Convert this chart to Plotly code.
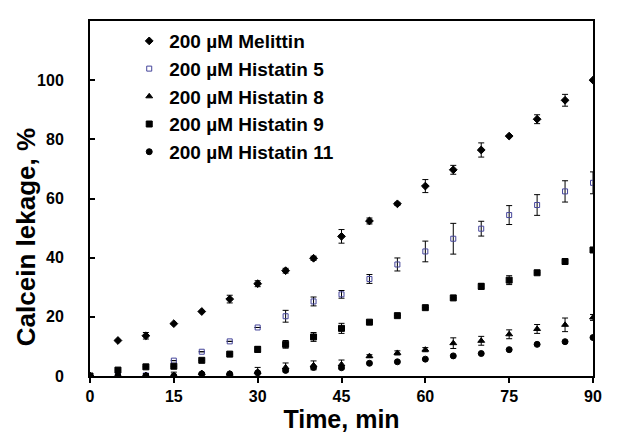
import plotly.graph_objects as go

time_min = [0, 5, 10, 15, 20, 25, 30, 35, 40, 45, 50, 55, 60, 65, 70, 75, 80, 85, 90]

melittin = [0, 12.0, 13.6, 17.7, 21.8, 26.0, 31.2, 35.6, 39.8, 47.2, 52.4, 58.2, 64.2, 69.7, 76.4, 81.1, 86.8, 93.2, 100.0]
melittin_err = [0, 0, 1.1, 0, 0, 1.3, 1.0, 0.8, 0.7, 2.3, 1.0, 0.5, 2.2, 1.5, 2.4, 0, 1.5, 2.0, 0]

histatin5 = [0, 0.4, 0.2, 5.2, 8.2, 11.7, 16.4, 20.2, 25.2, 27.6, 32.8, 37.7, 42.1, 46.4, 49.8, 54.4, 57.8, 62.4, 65.3]
histatin5_err = [0, 0, 0, 0, 0, 0, 0, 2.0, 1.5, 1.3, 1.5, 2.2, 3.5, 5.2, 2.5, 3.2, 3.5, 3.6, 3.7]

histatin8 = [0, 0.2, 0.3, 0.3, 1.0, 0.8, 1.4, 2.9, 3.6, 3.9, 6.7, 7.8, 8.9, 11.1, 11.9, 14.1, 15.9, 17.3, 19.8]
histatin8_err = [0, 0, 0.5, 1.0, 0, 0, 1.5, 1.5, 1.5, 1.5, 0.5, 0.7, 0.7, 1.8, 1.5, 1.5, 1.5, 2.3, 1.0]

histatin9 = [0, 2.0, 3.1, 3.3, 5.3, 7.4, 9.0, 10.7, 13.2, 16.1, 18.2, 20.4, 23.1, 26.4, 30.3, 32.4, 34.9, 38.7, 42.6]
histatin9_err = [0, 0, 0, 0, 0, 0, 1.0, 1.3, 1.5, 1.7, 0, 0, 0, 0, 1.0, 1.5, 0, 0.8, 0]

histatin11 = [0, 0, 0, 0, 0.7, 0.7, 1.1, 1.9, 2.9, 2.8, 4.3, 4.8, 5.7, 6.8, 7.6, 8.9, 10.7, 11.6, 13.0]

names = ["200 µM Melittin", "200 µM Histatin 5", "200 µM Histatin 8",
         "200 µM Histatin 9", "200 µM Histatin 11"]

x_ticks = [0, 15, 30, 45, 60, 75, 90]
y_ticks = [0, 20, 40, 60, 80, 100]

series = [
    (melittin, melittin_err, "diamond", "black", 6),
    (histatin5, histatin5_err, "square-open", "#45459a", 5),
    (histatin8, histatin8_err, "triangle-up", "black", 6),
    (histatin9, histatin9_err, "square", "black", 6),
    (histatin11, None, "circle", "black", 6),
]

fig = go.Figure()
for i, (vals, err, sym, col, sz) in enumerate(series):
    kw = {}
    if err is not None:
        kw["error_y"] = dict(type="data", array=err, visible=True,
                             color="black", thickness=1, width=3)
    fig.add_trace(go.Scatter(
        x=time_min, y=vals, mode="markers", name=names[i],
        legendgroup=f"g{i}",
        marker=dict(symbol=sym, color=col, size=sz,
                    line=dict(color=col, width=1)),
        **kw))

font_family = "Liberation Sans, Arial, sans-serif"

fig.update_layout(
    width=624, height=433,
    margin=dict(l=82, r=39, t=11, b=65),
    paper_bgcolor="white", plot_bgcolor="white",
    font=dict(family=font_family, color="black"),
    showlegend=True,
    legend=dict(x=0.078, y=0.997, xanchor="left", yanchor="top",
                bgcolor="rgba(0,0,0,0)", borderwidth=0,
                font=dict(size=19, family=font_family, weight="bold"),
                tracegroupgap=0, itemwidth=30),
    xaxis=dict(range=[0, 90], tickvals=x_ticks, ticks="outside", ticklen=5,
               tickwidth=1.5, tickcolor="black", showline=True, linewidth=2,
               linecolor="black", mirror=True, showgrid=False, zeroline=False,
               tickfont=dict(size=16, weight="bold"),
               title=dict(text="<b>Time, min</b>", font=dict(size=25), standoff=5)),
    yaxis=dict(range=[0, 120], tickvals=y_ticks,
               ticks="inside", ticklen=5, ticklabelstandoff=21,
               tickwidth=1.5, tickcolor="black", showline=True, linewidth=2,
               linecolor="black", mirror=True, showgrid=False, zeroline=False,
               tickfont=dict(size=16, weight="bold")),
    annotations=[dict(text="<b>Calcein lekage, %</b>", textangle=-90,
                      xref="paper", yref="paper", x=-0.128, y=0.39,
                      xanchor="center", yanchor="middle", showarrow=False,
                      font=dict(size=26, family=font_family))],
)

fig.write_html("out.html")
